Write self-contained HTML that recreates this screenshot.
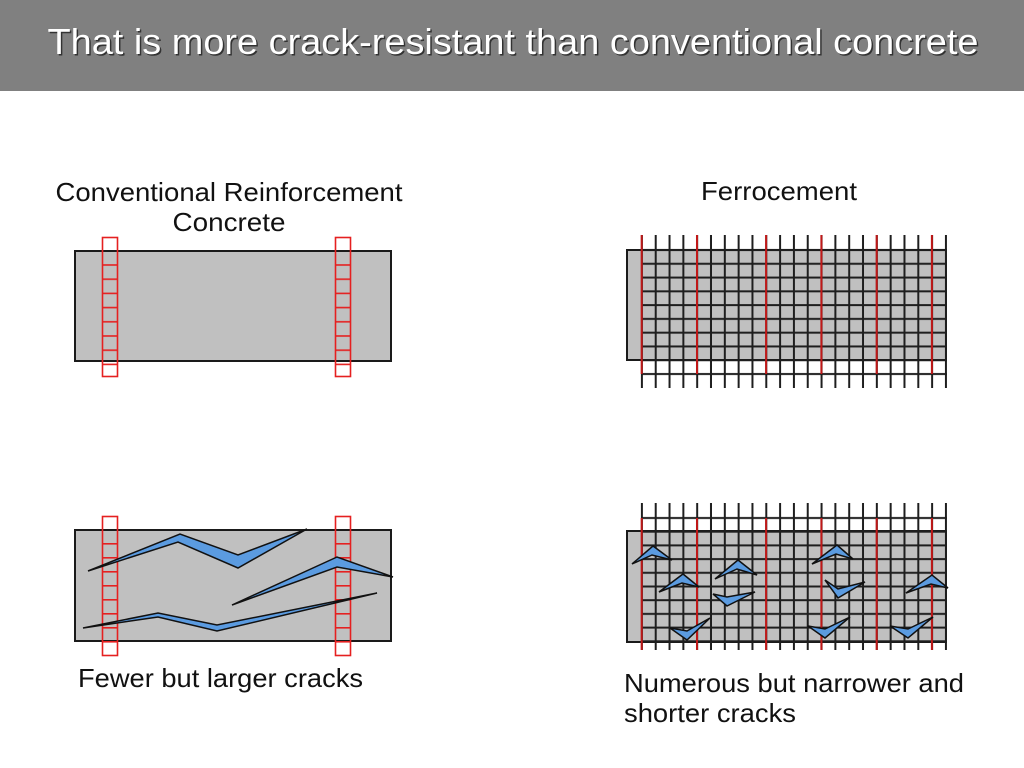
<!DOCTYPE html>
<html><head><meta charset="utf-8"><style>
html,body{margin:0;padding:0;background:#fff;}
svg{display:block;}
</style></head><body>
<svg width="1024" height="768" viewBox="0 0 1024 768" xmlns="http://www.w3.org/2000/svg">
<defs>
<pattern id="vl" patternUnits="userSpaceOnUse" x="635" y="0" width="13.82" height="10"><rect x="5.9" y="0" width="2" height="10" fill="#1e1e1e"/></pattern>
<pattern id="hlT" patternUnits="userSpaceOnUse" x="0" y="243" width="10" height="13.78"><rect x="0" y="6" width="10" height="2" fill="#1e1e1e"/></pattern>
<pattern id="hlB" patternUnits="userSpaceOnUse" x="0" y="511" width="10" height="13.7"><rect x="0" y="6" width="10" height="2" fill="#1e1e1e"/></pattern>
<pattern id="rungT" patternUnits="userSpaceOnUse" x="0" y="244" width="10" height="14.2"><rect x="0" y="6" width="10" height="1.6" fill="#e52020"/></pattern>
<pattern id="rungB" patternUnits="userSpaceOnUse" x="0" y="522" width="10" height="14"><rect x="0" y="7" width="10" height="1.6" fill="#e52020"/></pattern>
</defs>
<rect x="0" y="0" width="1024" height="91" fill="#808080"/>
<text x="513" y="54" text-anchor="middle" font-family="Liberation Sans, sans-serif" font-size="36" fill="#333" textLength="931" lengthAdjust="spacingAndGlyphs" transform="translate(1.5,1.5)">That is more crack-resistant than conventional concrete</text>
<text x="513" y="54" text-anchor="middle" font-family="Liberation Sans, sans-serif" font-size="36" fill="#fff" textLength="931" lengthAdjust="spacingAndGlyphs">That is more crack-resistant than conventional concrete</text>

<g font-family="Liberation Sans, sans-serif" font-size="26" fill="#111">
<text x="229" y="201" text-anchor="middle" textLength="347" lengthAdjust="spacingAndGlyphs">Conventional Reinforcement</text>
<text x="229" y="231" text-anchor="middle" textLength="113" lengthAdjust="spacingAndGlyphs">Concrete</text>
<text x="779" y="200" text-anchor="middle" textLength="156" lengthAdjust="spacingAndGlyphs">Ferrocement</text>
<text x="78" y="687" textLength="285" lengthAdjust="spacingAndGlyphs">Fewer but larger cracks</text>
<text x="624" y="692" textLength="340" lengthAdjust="spacingAndGlyphs">Numerous but narrower and</text>
<text x="624" y="722" textLength="172" lengthAdjust="spacingAndGlyphs">shorter cracks</text>
</g>

<!-- top left -->
<rect x="75" y="251" width="316" height="110" fill="#c0c0c0" stroke="#1a1a1a" stroke-width="2"/>
<rect x="103" y="258" width="14" height="110" fill="url(#rungT)"/>
<rect x="336" y="258" width="14" height="110" fill="url(#rungT)"/>
<rect x="102.5" y="237.5" width="15" height="139" fill="none" stroke="#e52020" stroke-width="1.6"/>
<rect x="335.5" y="237.5" width="15" height="139" fill="none" stroke="#e52020" stroke-width="1.6"/>

<!-- bottom left -->
<rect x="75" y="530" width="316" height="111" fill="#c0c0c0" stroke="#1a1a1a" stroke-width="2"/>
<rect x="103" y="536" width="14" height="110" fill="url(#rungB)"/>
<rect x="336" y="536" width="14" height="110" fill="url(#rungB)"/>
<rect x="102.5" y="516.5" width="15" height="139" fill="none" stroke="#e52020" stroke-width="1.6"/>
<rect x="335.5" y="516.5" width="15" height="139" fill="none" stroke="#e52020" stroke-width="1.6"/>
<g fill="#5b9be0" stroke="#111" stroke-width="1.5" stroke-linejoin="miter">
<polygon points="88,571 180,534 238,555 307,529 238,568 178,542"/>
<polygon points="232,605 337,557 393,577 337,567"/>
<polygon points="83,628 158,613 217,625 377,593 217,631 158,617"/>
</g>

<!-- top right -->
<rect x="627" y="250" width="319" height="110" fill="#c0c0c0" stroke="#1a1a1a" stroke-width="2"/>
<rect x="635" y="235" width="312" height="153" fill="url(#vl)"/>
<rect x="641" y="243" width="306" height="138" fill="url(#hlT)"/>
<g stroke="#c01818" stroke-width="2">
<line x1="641.7" y1="235" x2="641.7" y2="374"/><line x1="697" y1="235" x2="697" y2="374"/>
<line x1="766.1" y1="235" x2="766.1" y2="374"/><line x1="821.4" y1="235" x2="821.4" y2="374"/>
<line x1="876.7" y1="235" x2="876.7" y2="374"/><line x1="931.9" y1="235" x2="931.9" y2="374"/>
</g>

<!-- bottom right -->
<rect x="627" y="531" width="319" height="111" fill="#c0c0c0" stroke="#1a1a1a" stroke-width="2"/>
<rect x="635" y="503" width="312" height="147" fill="url(#vl)"/>
<rect x="641" y="511" width="306" height="137" fill="url(#hlB)"/>
<g stroke="#c01818" stroke-width="2">
<line x1="641.7" y1="518" x2="641.7" y2="650"/><line x1="697" y1="518" x2="697" y2="650"/>
<line x1="766.1" y1="518" x2="766.1" y2="650"/><line x1="821.4" y1="518" x2="821.4" y2="650"/>
<line x1="876.7" y1="518" x2="876.7" y2="650"/><line x1="931.9" y1="518" x2="931.9" y2="650"/>
</g>
<g fill="#5b9be0" stroke="#111" stroke-width="1.5">
<polygon points="632,564 653,546 672,560 652,555"/>
<polygon points="659,592 683,574 699,587 682,583"/>
<polygon points="715,579 738,560 757,575 737,569"/>
<polygon points="713,594 727,597 755,592 727,606"/>
<polygon points="670,628 687,631 710,618 687,640"/>
<polygon points="812,564 837,545 853,559 836,554"/>
<polygon points="825,580 838,589 865,582 838,598"/>
<polygon points="808,626 825,629 850,617 825,638"/>
<polygon points="906,593 932,575 948,588 931,584"/>
<polygon points="890,626 908,629 933,617 908,638"/>
</g>
</svg>
</body></html>
